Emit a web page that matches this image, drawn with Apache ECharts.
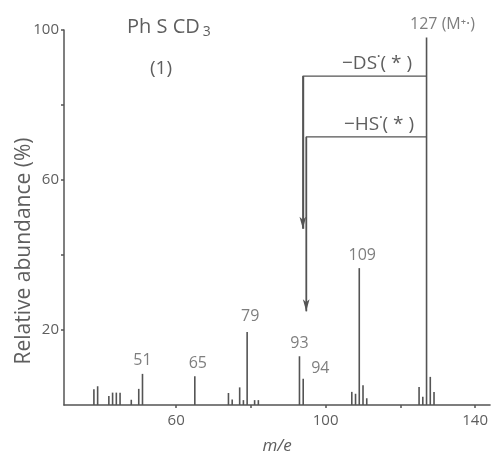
<!DOCTYPE html>
<html>
<head>
<meta charset="utf-8">
<script src="https://cdn.jsdelivr.net/npm/echarts@6/dist/echarts.min.js"></script>
<style>
  html, body { margin: 0; padding: 0; background: #ffffff; }
  #chart { width: 491px; height: 460px; }
</style>
</head>
<body>
<div id="chart"></div>
<script>
// Mass spectrum of PhSCD3: m/e of each peak and its relative abundance (%)
const massNumbers = [38, 39, 42, 43, 44, 45, 48, 50, 51, 65, 74, 75, 77, 78, 79, 81, 82,
                     93, 94, 107, 108, 109, 110, 111, 125, 126, 127, 128, 129];
const abundances  = [4.2, 5.0, 2.4, 3.3, 3.3, 3.3, 1.4, 4.3, 8.3, 7.7, 3.2, 1.5, 4.7, 1.3, 19.5, 1.3, 1.3,
                     13.0, 7.0, 3.5, 3.0, 36.5, 5.3, 1.8, 4.8, 2.2, 98.0, 7.5, 3.5];

// Peaks that carry a mass label
const labelledMasses = [51, 65, 79, 93, 94, 109, 127];
const labelTexts     = ['51', '65', '79', '93', '94', '109', '127 (M\u207A\u00B7)'];

// Axis ticks and labels
const xTickValues  = [60, 80, 100, 120, 140];
const xLabelValues = [60, 100, 140];
const yTickValues  = [20, 40, 60, 80, 100];
const yLabelValues = [20, 60, 100];

// Fragmentation paths from the molecular ion: [m/e, abundance level] corners
const dsLossPath = [[127, 87.7], [93.9, 87.7], [93.9, 47]];
const hsLossPath = [[127, 71.5], [94.8, 71.5], [94.8, 25]];

const INK = '#545454';
const TEXT = '#5e5e5e';
const FONT = '"Open Sans", "DejaVu Sans", sans-serif';

// label nudges (pixels) for individual peak labels
const labelNudge = { 94: { pos: 'right', off: [3, -10] }, 127: { off: [16, 0] }, 65: { off: [3, 0] },
                     79: { off: [3, -2] }, 109: { off: [3, 0] } };

const peakData = massNumbers.map((m, i) => [m, abundances[i]]);
const labelData = labelledMasses.map((m, i) => {
  const idx = massNumbers.indexOf(m);
  const n = labelNudge[m] || {};
  return {
    value: [m, abundances[idx]],
    label: {
      show: true,
      formatter: labelTexts[i],
      position: n.pos || 'top',
      distance: 5,
      offset: n.off || [0, 0]
    }
  };
});

function pathSeries(path) {
  return {
    type: 'line',
    data: path,
    symbol: 'none',
    silent: true,
    lineStyle: { color: INK, width: 1.4 },
    z: 3,
    markLine: {
      silent: true,
      symbol: ['none', 'arrow'],
      symbolSize: [5, 12],
      label: { show: false },
      lineStyle: { color: INK, width: 1.4, type: 'solid' },
      data: [[{ coord: path[1] }, { coord: path[2] }]]
    }
  };
}

const chart = echarts.init(document.getElementById('chart'), null, { renderer: 'canvas' });
chart.setOption({
  animation: false,
  backgroundColor: '#ffffff',
  textStyle: { fontFamily: FONT, color: TEXT },
  grid: { left: 64, right: 0, top: 30, bottom: 55, containLabel: false },
  xAxis: {
    type: 'value',
    min: 30,
    max: 144,
    name: 'm/e',
    nameLocation: 'middle',
    nameGap: 33,
    nameTextStyle: { fontFamily: FONT, fontStyle: 'italic', fontSize: 17, color: TEXT },
    axisLine: { lineStyle: { color: INK, width: 1.5 } },
    axisTick: { show: true, length: 3, customValues: xTickValues, lineStyle: { color: INK, width: 1.5 } },
    axisLabel: { customValues: xLabelValues, fontSize: 15, color: TEXT, margin: 8 },
    splitLine: { show: false }
  },
  yAxis: {
    type: 'value',
    min: 0,
    max: 100,
    axisLine: { show: true, lineStyle: { color: INK, width: 1.5 } },
    axisTick: { show: true, length: 3, customValues: yTickValues, lineStyle: { color: INK, width: 1.5 } },
    axisLabel: { customValues: yLabelValues, fontSize: 15, color: TEXT, margin: 5 },
    splitLine: { show: false }
  },
  graphic: [
    {
      type: 'text', x: 24, y: 251, rotation: Math.PI / 2,
      style: { text: 'Relative abundance (%)', fontFamily: FONT, fontSize: 21, fill: TEXT,
               align: 'center', verticalAlign: 'middle' }
    },
    {
      type: 'text', x: 127, y: 15,
      style: {
        text: '{a|Ph S CD}{b|3}',
        rich: {
          a: { fontFamily: FONT, fontSize: 20, fill: TEXT, color: TEXT },
          b: { fontFamily: FONT, fontSize: 14, fill: TEXT, color: TEXT, padding: [10, 0, 0, 3] }
        }
      }
    },
    {
      type: 'text', x: 161, y: 69,
      style: { text: '(1)', fontFamily: FONT, fontSize: 19, fill: TEXT, align: 'center', verticalAlign: 'middle' }
    },
    {
      type: 'text', x: 377, y: 64,
      style: { text: '\u2212DS\u02D9( * )', fontFamily: FONT, fontSize: 19, fill: TEXT, align: 'center', verticalAlign: 'middle' }
    },
    {
      type: 'text', x: 379, y: 125,
      style: { text: '\u2212HS\u02D9( * )', fontFamily: FONT, fontSize: 19, fill: TEXT, align: 'center', verticalAlign: 'middle' }
    }
  ],
  series: [
    {
      type: 'custom',
      data: peakData,
      silent: true,
      z: 4,
      renderItem: function (params, api) {
        const base = api.coord([api.value(0), 0]);
        const top = api.coord([api.value(0), api.value(1)]);
        return {
          type: 'line',
          shape: { x1: base[0], y1: base[1], x2: top[0], y2: top[1] },
          style: { stroke: INK, lineWidth: 1.6 }
        };
      }
    },
    {
      type: 'scatter',
      data: labelData,
      symbolSize: 0,
      silent: true,
      z: 5,
      label: { fontFamily: FONT, fontSize: 16, color: TEXT }
    },
    pathSeries(dsLossPath),
    pathSeries(hsLossPath)
  ]
});
</script>
</body>
</html>
